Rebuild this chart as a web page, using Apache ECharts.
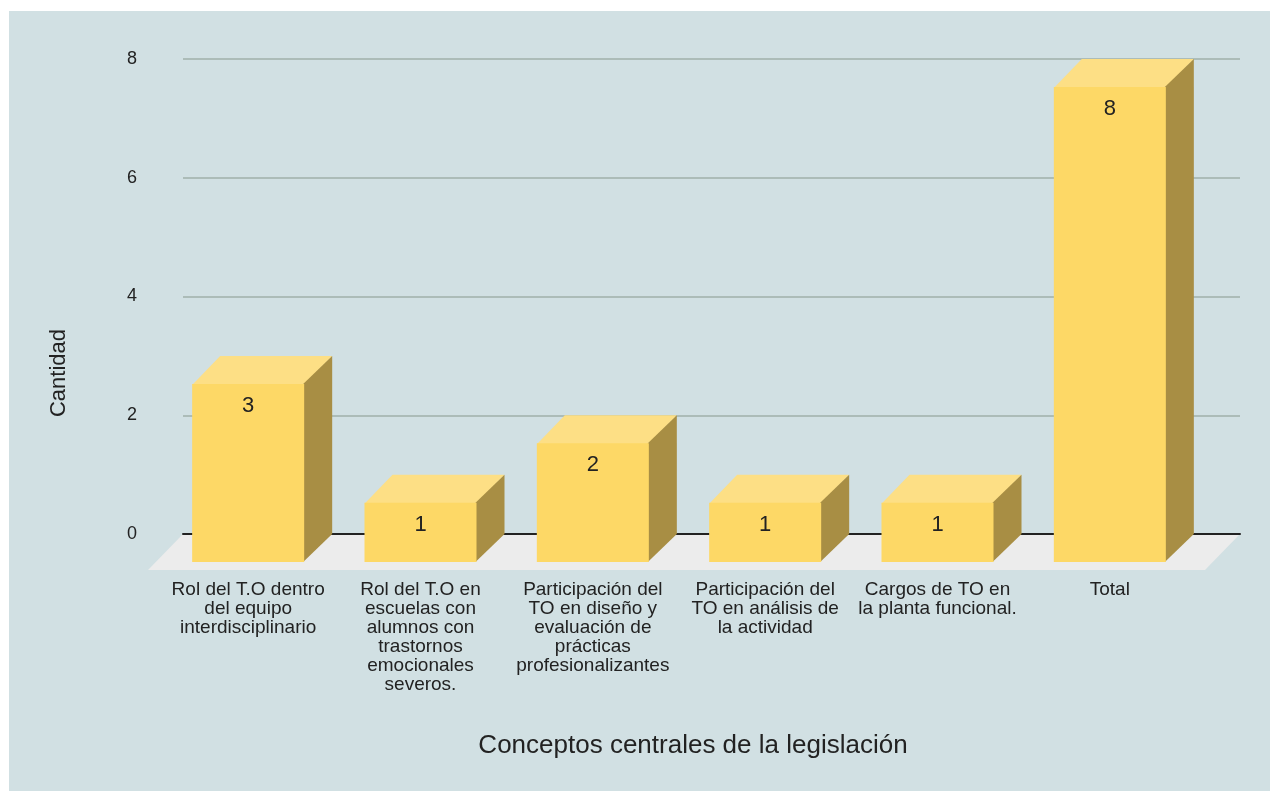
<!DOCTYPE html>
<html>
<head>
<meta charset="utf-8">
<script src="https://cdn.jsdelivr.net/npm/echarts@6/dist/echarts.min.js"></script>
<style>
  html, body { margin: 0; padding: 0; background: #fff; }
  #chart { position: absolute; left: 9px; top: 11px; width: 1261px; height: 780px; }
</style>
</head>
<body>
<div id="chart"></div>
<script>
// categorias (eje X) y valores
const categorias = [
  "Rol del T.O dentro\ndel equipo\ninterdisciplinario",
  "Rol del T.O en\nescuelas con\nalumnos con\ntrastornos\nemocionales\nseveros.",
  "Participación del\nTO en diseño y\nevaluación de\nprácticas\nprofesionalizantes",
  "Participación del\nTO en análisis de\nla actividad",
  "Cargos de TO en\nla planta funcional.",
  "Total"
];
const cantidades = [3, 1, 2, 1, 1, 8];
const ticksY = [0, 2, 4, 6, 8];

const FRENTE = "#fdd866";
const TAPA = "#fddf85";
const LADO = "#a88e44";
const PROF = 28; // profundidad del efecto 3D
const FUENTE = "'Liberation Sans', Arial, sans-serif";

const chart = echarts.init(document.getElementById("chart"));

function cubo(params, api) {
  const i = api.value(0);
  const v = api.value(1);
  const top = api.coord([i, v]);
  const base = api.coord([i, 0]);
  const w = api.size([1, 0])[0] * 0.65;
  const fl = top[0] - w / 2;
  const fr = top[0] + w / 2;
  const ft = top[1] + PROF;
  const fb = base[1] + PROF;
  return {
    type: "group",
    children: [
      {
        type: "polygon",
        shape: { points: [[fl, ft + 1], [fr, ft + 1], [fr + PROF, ft - PROF], [fl + PROF, ft - PROF]] },
        style: { fill: TAPA }
      },
      {
        type: "polygon",
        shape: { points: [[fr - 1, ft], [fr + PROF, ft - PROF], [fr + PROF, fb - PROF], [fr - 1, fb]] },
        style: { fill: LADO }
      },
      {
        type: "rect",
        shape: { x: fl, y: ft, width: w, height: fb - ft },
        style: { fill: FRENTE }
      },
      {
        type: "text",
        x: top[0],
        y: ft + 22,
        style: {
          text: String(v),
          fill: "#222",
          font: "22px " + FUENTE,
          align: "center",
          verticalAlign: "middle"
        }
      }
    ]
  };
}

const option = {
  backgroundColor: "#d1e0e3",
  textStyle: { fontFamily: FUENTE },
  grid: [
    { left: 174, right: 30, top: 48, bottom: 257 },
    { left: 153, right: 74, top: 48, bottom: 257 }
  ],
  xAxis: [
    {
      gridIndex: 0,
      type: "value",
      min: 0,
      max: 1,
      z: 3,
      axisLine: { show: true, lineStyle: { color: "#222", width: 2 } },
      axisTick: { show: false },
      axisLabel: { show: false },
      splitLine: { show: false }
    },
    {
      gridIndex: 1,
      type: "category",
      data: categorias,
      axisLine: { show: false },
      axisTick: { show: false },
      axisLabel: {
        interval: 0,
        margin: 46,
        color: "#222",
        fontSize: 19,
        lineHeight: 19,
        align: "center"
      }
    }
  ],
  yAxis: [
    {
      gridIndex: 0,
      type: "value",
      min: ticksY[0],
      max: ticksY[ticksY.length - 1],
      interval: 2,
      axisLine: { show: false },
      axisTick: { show: false },
      axisLabel: { color: "#222", fontSize: 18, margin: 46 },
      splitLine: { lineStyle: { color: "#9fb0aa", width: 1.5 } }
    },
    {
      gridIndex: 1,
      type: "value",
      min: ticksY[0],
      max: ticksY[ticksY.length - 1],
      show: false
    }
  ],
  graphic: [
    {
      type: "polygon",
      z: 0,
      shape: { points: [[174, 523], [1231, 523], [1196, 559], [139, 559]] },
      style: { fill: "#ececec" }
    },
    {
      type: "text",
      x: 50,
      y: 362,
      rotation: Math.PI / 2,
      style: {
        text: "Cantidad",
        fill: "#222",
        font: "22px " + FUENTE,
        align: "center",
        verticalAlign: "middle"
      }
    },
    {
      type: "text",
      x: 684,
      y: 735,
      style: {
        text: "Conceptos centrales de la legislación",
        fill: "#222",
        font: "26px " + FUENTE,
        align: "center",
        verticalAlign: "middle"
      }
    }
  ],
  series: [
    {
      type: "custom",
      xAxisIndex: 1,
      yAxisIndex: 1,
      z: 5,
      renderItem: cubo,
      data: cantidades.map((v, i) => [i, v])
    }
  ]
};

chart.setOption(option);
window.onresize = chart.resize;
</script>
</body>
</html>
